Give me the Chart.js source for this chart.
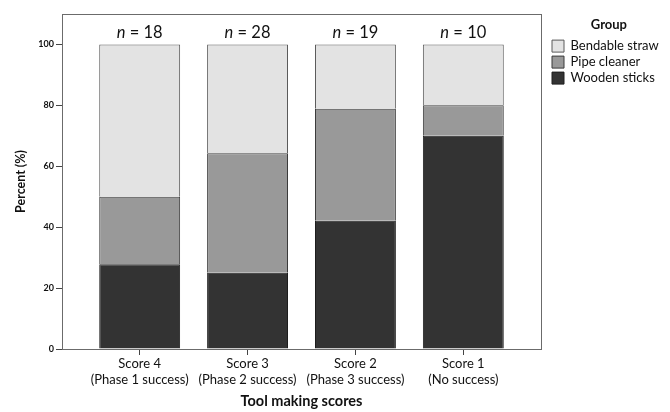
<!DOCTYPE html>
<html>
<head>
<meta charset="utf-8">
<script src="https://cdn.jsdelivr.net/npm/chart.js@4"></script>
<style>
  html, body { margin: 0; padding: 0; background: #fff; }
  #wrap { width: 670px; height: 412px; }
</style>
</head>
<body>
<div id="wrap"><canvas id="c"></canvas></div>
<script>
const categories = [
  ["Score 4", "(Phase 1 success)"],
  ["Score 3", "(Phase 2 success)"],
  ["Score 2", "(Phase 3 success)"],
  ["Score 1", "(No success)"]
];
const sampleSizes = [18, 28, 19, 10];
const woodenSticks = [27.8, 25.0, 42.1, 70.0];
const pipeCleaner = [22.2, 39.3, 36.8, 10.0];
const bendableStraw = [50.0, 35.7, 21.1, 20.0];
const yTicks = [0, 20, 40, 60, 80, 100];

const FONT = "Lato, 'Open Sans', sans-serif";
const toPoints = arr => arr.map((v, i) => ({ x: i, y: v }));

const PLOT_RIGHT = 541;   // right edge of the plot frame
const LEGEND_SHIFT = 8;   // extra gap between frame and legend boxes

const layoutPlugin = {
  id: 'legendPlace',
  afterLayout(chart) {
    const lg = chart.legend;
    if (lg) { lg.left += LEGEND_SHIFT; lg.right += LEGEND_SHIFT; }
  }
};

const framePlugin = {
  id: 'frame',
  afterDraw(chart) {
    const { ctx, chartArea: a } = chart;
    ctx.save();
    ctx.strokeStyle = '#6b6b6b';
    ctx.lineWidth = 1;
    ctx.strokeRect(Math.round(a.left) + 0.5, Math.round(a.top) + 0.5,
                   Math.round(a.right - a.left), Math.round(a.bottom - a.top));
    ctx.restore();
  }
};

const nPlugin = {
  id: 'nlabels',
  afterDatasetsDraw(chart) {
    const { ctx, scales } = chart;
    ctx.save();
    ctx.fillStyle = '#111';
    ctx.textBaseline = 'alphabetic';
    const y = scales.y.getPixelForValue(100) - 6;
    sampleSizes.forEach((n, i) => {
      const x = scales.x.getPixelForValue(i);
      const italic = 'italic 16.5px ' + FONT;
      const normal = '16.5px ' + FONT;
      ctx.font = italic;
      const w1 = ctx.measureText('n').width;
      ctx.font = normal;
      const rest = ' = ' + n;
      const w2 = ctx.measureText(rest).width;
      const x0 = x - (w1 + w2) / 2;
      ctx.textAlign = 'left';
      ctx.font = italic;
      ctx.fillText('n', x0, y);
      ctx.font = normal;
      ctx.fillText(rest, x0 + w1, y);
    });
    ctx.restore();
  }
};

const chart = new Chart(document.getElementById('c'), {
  type: 'bar',
  data: {
    datasets: [
      { label: 'Wooden sticks', data: toPoints(woodenSticks), backgroundColor: '#333333', borderColor: '#1e1e1e', borderWidth: 1 },
      { label: 'Pipe cleaner', data: toPoints(pipeCleaner), backgroundColor: '#999999', borderColor: '#3a3a3a', borderWidth: 1 },
      { label: 'Bendable straw', data: toPoints(bendableStraw), backgroundColor: '#e3e3e3', borderColor: '#5a5a5a', borderWidth: 1 }
    ]
  },
  options: {
    responsive: true,
    maintainAspectRatio: false,
    animation: false,
    devicePixelRatio: 1,
    categoryPercentage: 0.75,
    barPercentage: 1.0,
    layout: { padding: { top: 14, right: 0, bottom: 0, left: 0 } },
    plugins: {
      tooltip: { enabled: false },
      legend: {
        position: 'right',
        align: 'start',
        reverse: true,
        title: { display: true, text: 'Group', color: '#111', font: { family: FONT, size: 13, weight: 'bold' }, padding: { top: 4, bottom: 3 } },
        labels: {
          boxWidth: 12, boxHeight: 12, padding: 3, color: '#111',
          font: { family: FONT, size: 13 }
        }
      }
    },
    scales: {
      x: {
        type: 'linear',
        stacked: true,
        min: -0.72,
        max: 3.72,
        offset: false,
        afterBuildTicks(scale) { scale.ticks = categories.map((c, i) => ({ value: i })); },
        afterFit(scale) { scale.height = 63; },
        ticks: {
          autoSkip: false, maxRotation: 0, color: '#111', padding: 0,
          font: { family: FONT, size: 13, lineHeight: 1.28 },
          callback: (v) => categories[v]
        },
        grid: { offset: false, drawOnChartArea: false, drawTicks: true, tickLength: 6, color: '#444' },
        border: { display: false },
        title: { display: true, text: 'Tool making scores', color: '#111', font: { family: FONT, size: 14.5, weight: 'bold' }, padding: { top: 6, bottom: 2 } }
      },
      y: {
        stacked: true,
        min: 0,
        max: 110,
        afterBuildTicks(scale) { scale.ticks = yTicks.map(v => ({ value: v })); },
        afterFit(scale) { scale.width = 62; },
        ticks: { color: '#111', padding: 2, font: { family: FONT, size: 9, weight: 'bold' } },
        grid: { drawOnChartArea: false, drawTicks: true, tickLength: 6, color: '#444' },
        border: { display: false },
        title: { display: true, text: 'Percent (%)', color: '#111', font: { family: FONT, size: 12.5, weight: 'bold' }, padding: { top: 13, bottom: 0 } }
      }
    }
  },
  plugins: [layoutPlugin, framePlugin, nPlugin]
});

// size the right-hand padding so that the plot frame ends at PLOT_RIGHT
const extra = chart.chartArea.right - PLOT_RIGHT;
if (Math.abs(extra) > 0.5) {
  chart.options.layout.padding.right = Math.max(0, extra);
  chart.update();
}
</script>
</body>
</html>
